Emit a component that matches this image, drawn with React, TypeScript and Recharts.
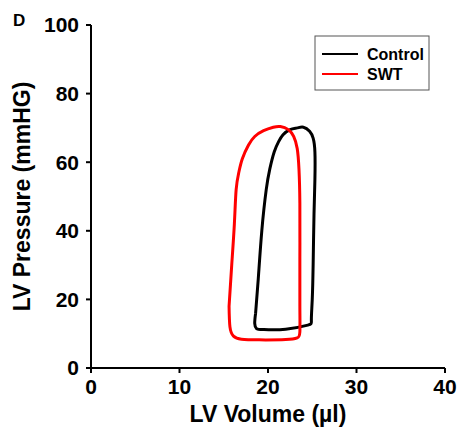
import React from "react";
import { ComposedChart, Line, XAxis, YAxis } from "recharts";

const controlVolume = [18.6, 18.9, 19.3, 19.8, 20.2, 20.7, 21.2, 21.7, 22.5, 23.3, 24.0, 24.7, 25.1, 25.3, 25.3, 25.2, 25.1, 25.0, 24.9, 24.5, 22.0, 19.5, 18.7, 18.5, 18.6];
const controlPressure = [16, 26, 40, 52, 58, 63, 66, 68, 69.5, 70, 70.2, 69, 67, 63, 55, 45, 30, 20, 14, 12.5, 11.3, 11.2, 11.5, 13, 16];
const swtVolume = [15.6, 15.9, 16.2, 16.4, 16.7, 17.1, 17.8, 18.5, 19.5, 20.6, 21.4, 22.3, 22.9, 23.3, 23.5, 23.6, 23.6, 23.6, 23.6, 23.3, 22.0, 19.0, 17.0, 16.1, 15.7, 15.6];
const swtPressure = [18, 30, 42, 52, 57, 61, 65, 67.5, 69.2, 70.2, 70.4, 69.5, 67.5, 64, 58, 48, 32, 18, 10.5, 8.8, 8.3, 8.2, 8.4, 9.3, 12, 18];
const xTicks = [0, 10, 20, 30, 40];
const yTicks = [0, 20, 40, 60, 80, 100];

const controlData = controlVolume.map((v, i) => ({ x: v, y: controlPressure[i] }));
const swtData = swtVolume.map((v, i) => ({ x: v, y: swtPressure[i] }));

const FONT = "'Liberation Sans', Arial, sans-serif";

export default function App() {
  return (
    <div style={{ position: "absolute", left: 0, top: 0, width: 458, height: 439, background: "#fff" }}>
      <ComposedChart width={458} height={439} margin={{ top: 25, right: 13, left: 0, bottom: 0 }}>
        <XAxis
          type="number"
          dataKey="x"
          domain={[0, 40]}
          ticks={xTicks}
          allowDataOverflow
          height={71}
          stroke="#000"
          strokeWidth={2}
          tickSize={5}
          tickMargin={6}
          tick={{ fill: "#000", fontSize: 21, fontWeight: "bold", fontFamily: FONT }}
          label={{ value: "LV Volume (µl)", position: "insideBottom", offset: 17, fill: "#000", fontSize: 23, fontWeight: "bold", fontFamily: FONT }}
        />
        <YAxis
          type="number"
          dataKey="y"
          domain={[0, 100]}
          ticks={yTicks}
          allowDataOverflow
          width={91}
          stroke="#000"
          strokeWidth={2}
          tickSize={5}
          tickMargin={7}
          tick={{ fill: "#000", fontSize: 21, fontWeight: "bold", fontFamily: FONT }}
          label={{ value: "LV Pressure (mmHG)", angle: -90, position: "insideLeft", offset: 22, fill: "#000", fontSize: 23, fontWeight: "bold", fontFamily: FONT, style: { textAnchor: "middle" } }}
        />
        <Line data={controlData} dataKey="y" type="natural" stroke="#000" strokeWidth={3} dot={false} isAnimationActive={false} />
        <Line data={swtData} dataKey="y" type="natural" stroke="#ff0000" strokeWidth={3} dot={false} isAnimationActive={false} />
        <text x={13} y={26} fontSize={17} fontWeight="bold" fontFamily={FONT} fill="#000">D</text>
        <rect x={315} y={36} width={114} height={54} fill="#fff" stroke="#555" strokeWidth={1} />
        <line x1={322} x2={358} y1={54} y2={54} stroke="#000" strokeWidth={2} />
        <line x1={322} x2={358} y1={74} y2={74} stroke="#ff0000" strokeWidth={2} />
        <text x={367} y={60} fontSize={16} fontWeight="bold" fontFamily={FONT} fill="#000">Control</text>
        <text x={367} y={80} fontSize={16} fontWeight="bold" fontFamily={FONT} fill="#000">SWT</text>
      </ComposedChart>
    </div>
  );
}
